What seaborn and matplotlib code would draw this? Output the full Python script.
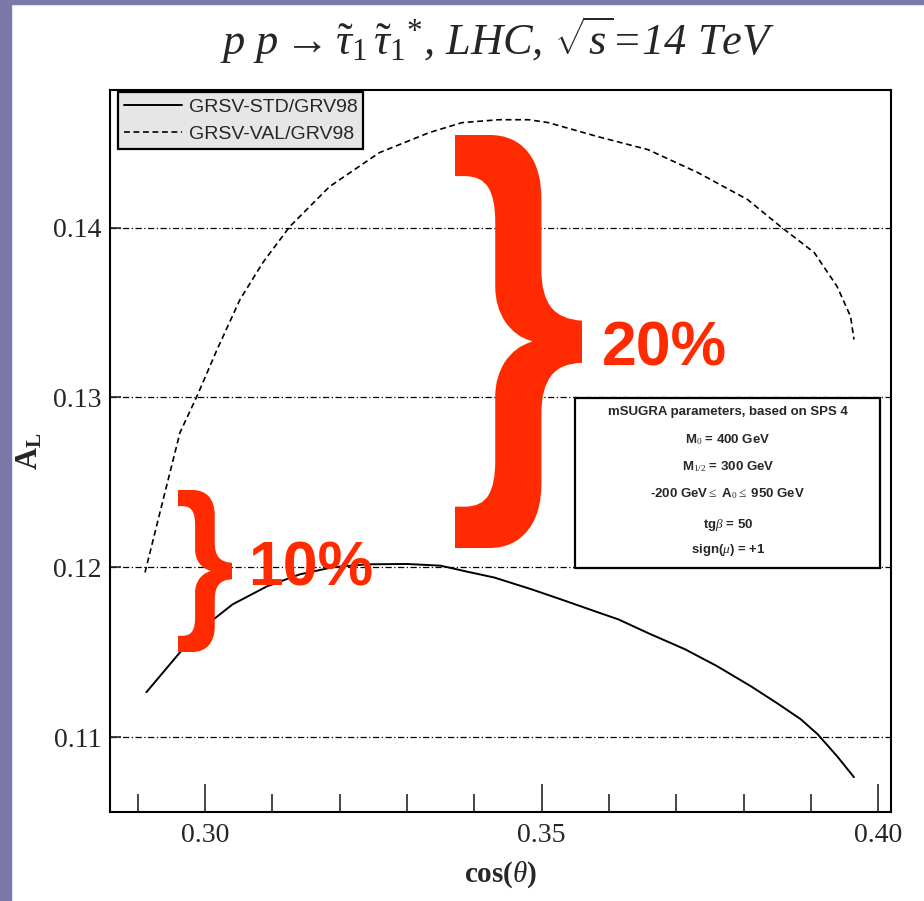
import numpy as np
import pandas as pd
import seaborn as sns
import matplotlib.pyplot as plt
from matplotlib.ticker import MultipleLocator, FixedLocator
from matplotlib.textpath import TextPath
from matplotlib.font_manager import FontProperties
from matplotlib.patches import PathPatch, Rectangle
from matplotlib.transforms import Affine2D

# GRSV-STD / GRV98 (solid)
std_x = [0.2913, 0.2963, 0.3007, 0.3041, 0.3092, 0.3141, 0.3189, 0.3240, 0.3300,
         0.3350, 0.3388, 0.3430, 0.3485, 0.3530, 0.3584, 0.3614, 0.3660, 0.3713,
         0.3760, 0.3811, 0.3850, 0.3885, 0.3910, 0.3939, 0.3964]
std_y = [0.11265, 0.11500, 0.11676, 0.11782, 0.11888, 0.11959, 0.12000, 0.12018, 0.12020,
         0.12010, 0.11976, 0.11940, 0.11871, 0.11810, 0.11735, 0.11694, 0.11610, 0.11518,
         0.11420, 0.11300, 0.11200, 0.11106, 0.11018, 0.10888, 0.10765]

# GRSV-VAL / GRV98 (dashed)
val_x = [0.2911, 0.2938, 0.2963, 0.2988, 0.3018, 0.3052, 0.3086, 0.3126, 0.3185,
         0.3259, 0.3333, 0.3382, 0.3436, 0.3481, 0.3510, 0.3584, 0.3658, 0.3732,
         0.3806, 0.3855, 0.3905, 0.3939, 0.3959, 0.3964]
val_y = [0.11970, 0.12400, 0.12794, 0.13006, 0.13282, 0.13576, 0.13794, 0.14006, 0.14241,
         0.14441, 0.14559, 0.14618, 0.14635, 0.14635, 0.14618, 0.14535, 0.14459, 0.14324,
         0.14165, 0.14006, 0.13853, 0.13653, 0.13476, 0.13341]

x_major = [0.30, 0.35, 0.40]
y_major = [0.11, 0.12, 0.13, 0.14]

box_lines = ["mSUGRA parameters, based on SPS 4",
             r"M$_0$ = 400 GeV",
             r"M$_{1/2}$ = 300 GeV",
             r"-200 GeV$\leq$ A$_0$$\leq$ 950 GeV",
             r"tg$\beta$ = 50",
             r"sign($\mu$) = +1"]

sns.set_style("ticks")
plt.rcParams["font.family"] = ["Liberation Serif", "DejaVu Serif"]
plt.rcParams["mathtext.fontset"] = "custom"
plt.rcParams["mathtext.rm"] = "Liberation Serif"
plt.rcParams["mathtext.it"] = "Liberation Serif:italic"
plt.rcParams["mathtext.bf"] = "Liberation Serif:bold"

W, H = 924, 901
fig = plt.figure(figsize=(W / 100, H / 100), dpi=100)
fig.patch.set_facecolor("white")
purple = "#7b79a9"
fig.patches.append(Rectangle((0, 0), 11 / W, 1, transform=fig.transFigure, color=purple, zorder=0))
fig.patches.append(Rectangle((0, 1 - 4 / H), 1, 4 / H, transform=fig.transFigure, color=purple, zorder=0))

ax = fig.add_axes([110 / W, 1 - 812 / H, (891 - 110) / W, (812 - 90) / H])

std = pd.DataFrame({"x": std_x, "y": std_y})
val = pd.DataFrame({"x": val_x, "y": val_y})
sns.lineplot(data=std, x="x", y="y", ax=ax, color="black", lw=1.4, label="GRSV-STD/GRV98")
sns.lineplot(data=val, x="x", y="y", ax=ax, color="black", lw=1.2,
             linestyle=(0, (3.5, 2.2)), label="GRSV-VAL/GRV98")

ax.set_xlim(0.2859, 0.4019)
ax.set_ylim(0.1056, 0.1481)
ax.xaxis.set_major_locator(FixedLocator(x_major))
ax.xaxis.set_minor_locator(MultipleLocator(0.01))
ax.yaxis.set_major_locator(FixedLocator(y_major))
ax.set_xticklabels([f"{v:.2f}" for v in x_major])
ax.set_yticklabels([f"{v:.2f}" for v in y_major])
ax.tick_params(axis="x", which="major", direction="in", length=20, width=1.2, labelsize=20, pad=8)
ax.tick_params(axis="x", which="minor", direction="in", length=13, width=1.2)
ax.tick_params(axis="y", which="major", direction="in", length=8, width=1.2, labelsize=20, pad=6)
ax.grid(axis="y", color="black", lw=0.9, linestyle=(0, (5, 2, 1, 2)))
for s in ax.spines.values():
    s.set_linewidth(1.5)
    s.set_color("black")

ax.set_xlabel(r"cos($\theta$)", fontsize=21, fontweight="bold", labelpad=8)
ax.set_ylabel(r"$\mathbf{A}_\mathbf{L}$", fontsize=22, labelpad=6)

leg = ax.legend(loc="upper left", bbox_to_anchor=(0.01, 0.997), borderaxespad=0,
                fancybox=False, framealpha=1, facecolor="#e6e6e6", edgecolor="black",
                prop={"family": "Liberation Sans", "size": 14},
                handlelength=3.0, handletextpad=0.35, labelspacing=0.5, borderpad=0.3)
leg.get_frame().set_linewidth(1.6)

# parameter box
bx0, bx1 = (575 - 110) / 781, (880 - 110) / 781
by0, by1 = (812 - 568) / 722, (812 - 398) / 722
ax.add_patch(Rectangle((bx0, by0), bx1 - bx0, by1 - by0, transform=ax.transAxes,
                       facecolor="white", edgecolor="black", lw=1.6, zorder=3))
line_px = [412, 440, 467, 494, 525, 550]
for txt, py in zip(box_lines, line_px):
    ax.text((728 - 110) / 781, (812 - py) / 722, txt, transform=ax.transAxes,
            ha="center", va="center", fontsize=9.5, fontweight="bold",
            family="Liberation Sans", zorder=4)

fig.text(497 / W, 1 - 40 / H,
         r"$p\ p \rightarrow \tilde{\tau}_1\,\tilde{\tau}_1{}^{*}$, LHC, $\sqrt{s}$=14 TeV",
         ha="center", va="center", fontsize=32, fontstyle="italic", family="Liberation Serif")

# red braces and labels
red = "#ff2a00"
brace = TextPath((0, 0), "}", prop=FontProperties(family="Liberation Sans", weight="bold"))


def add_brace(x0, x1, ytop, ybot):
    ext = brace.get_extents()
    sx = (x1 - x0) / W / ext.width
    sy = (ybot - ytop) / H / ext.height
    tr = Affine2D().translate(-ext.x0, -ext.y0).scale(sx, sy).translate(x0 / W, 1 - ybot / H)
    fig.patches.append(PathPatch(tr.transform_path(brace), transform=fig.transFigure,
                                 facecolor=red, edgecolor="none", zorder=10))


add_brace(455, 582, 135, 548)
add_brace(178, 232, 490, 652)
fig.text(602 / W, 1 - 365 / H, "20%", color=red, fontsize=45, fontweight="bold",
         family="Liberation Sans", ha="left", va="baseline", zorder=11)
fig.text(248 / W, 1 - 585 / H, "10%", color=red, fontsize=45, fontweight="bold",
         family="Liberation Sans", ha="left", va="baseline", zorder=11)

fig.savefig("out.png", dpi=100)
